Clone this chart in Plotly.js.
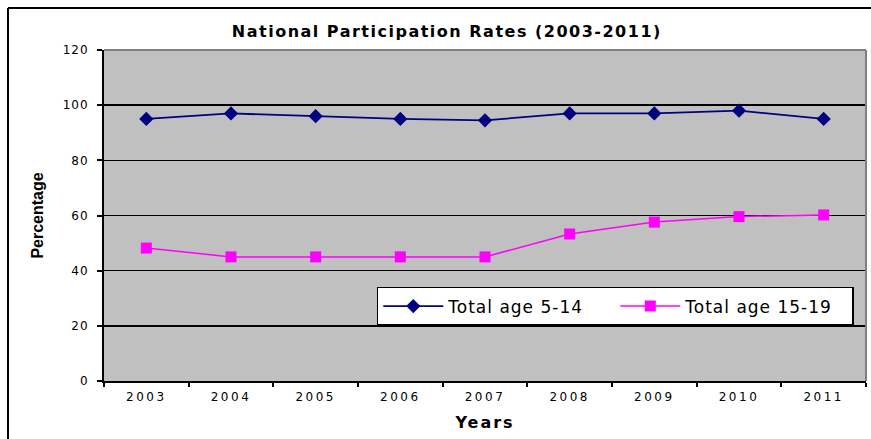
<!DOCTYPE html>
<html>
<head>
<meta charset="utf-8">
<script src="https://cdn.plot.ly/plotly-3.0.1.min.js"></script>
<style>
html,body{margin:0;padding:0;background:#fff;}
#chart{width:871px;height:439px;}
#chart .xtick text{letter-spacing:2.5px;}
#chart .ytick text{letter-spacing:1px;}
#chart .gtitle{letter-spacing:1.5px;}
#chart .xtitle{letter-spacing:2px;}
#chart .legendtext{letter-spacing:1px;}
</style>
</head>
<body>
<div id="chart"></div>
<script>
const years = ["2003","2004","2005","2006","2007","2008","2009","2010","2011"];
const age5to14 = [95, 97, 96, 95, 94.5, 97, 97, 98, 95];
const age15to19 = [48.2, 45, 45, 45, 45, 53.3, 57.6, 59.6, 60.2];
const yTicks = [0, 20, 40, 60, 80, 100, 120];

const traces = [
  {x: years, y: age5to14, type: "scatter", mode: "lines+markers", name: "Total age 5-14",
   line: {color: "#000080", width: 1.8}, marker: {symbol: "diamond", size: 11, color: "#000080"}},
  {x: years, y: age15to19, type: "scatter", mode: "lines+markers", name: "Total age 15-19",
   line: {color: "#FF00FF", width: 1.5}, marker: {symbol: "square", size: 11, color: "#FF00FF"}}
];

const DV = "'DejaVu Sans', Arial, sans-serif";
const layout = {
  width: 871, height: 439,
  margin: {l: 104, r: 5, t: 50, b: 58},
  paper_bgcolor: "#ffffff",
  plot_bgcolor: "#C0C0C0",
  font: {family: DV, color: "#000", size: 12},
  title: {text: "<b>National Participation Rates (2003-2011)</b>", font: {size: 16, family: DV},
          xref: "container", x: 0.513, xanchor: "center", yref: "container", y: 0.929, yanchor: "middle"},
  xaxis: {type: "category", tickson: "boundaries", ticks: "outside", ticklen: 4, tickcolor: "#000", tickwidth: 2,
          showline: true, linecolor: "#000", linewidth: 2, showgrid: false, range: [-0.5, 8.5],
          tickfont: {size: 12, family: DV}, ticklabelstandoff: 4,
          title: {text: "<b>Years</b>", font: {size: 16, family: DV}, standoff: 13}},
  yaxis: {range: [0, 120], tickvals: yTicks, ticks: "outside", ticklen: 5, tickcolor: "#000", tickwidth: 2,
          showline: true, linecolor: "#000", linewidth: 2, showgrid: true, gridcolor: "#000", gridwidth: 1.5,
          zeroline: false, tickfont: {size: 12, family: DV}, ticklabelstandoff: 6,
          title: {text: "<b>Percentage</b>", font: {size: 16, family: "Arial, 'Liberation Sans', sans-serif"}, standoff: 18}},
  legend: {orientation: "h", x: 0.358, y: 0.284, xanchor: "left", yanchor: "top",
           bgcolor: "#ffffff", bordercolor: "#000", borderwidth: 1.5,
           font: {size: 17, family: DV}, itemwidth: 60, entrywidth: 162},
  shapes: [
    {type: "line", xref: "paper", yref: "paper", x0: 1, x1: 1, y0: 0, y1: 1, line: {color: "#808080", width: 2}},
    {type: "line", xref: "paper", yref: "paper", x0: 0, x1: 1, y0: 1, y1: 1, line: {color: "#808080", width: 2}},
    {type: "line", xref: "paper", yref: "paper", x0: -0.126, x1: 1.01, y0: 1.127, y1: 1.127, line: {color: "#000", width: 2}},
    {type: "line", xref: "paper", yref: "paper", x0: -0.126, x1: -0.126, y0: 1.127, y1: -0.2, line: {color: "#000", width: 2}}
  ],
  showlegend: true
};

Plotly.newPlot("chart", traces, layout, {displayModeBar: false, staticPlot: true});
</script>
</body>
</html>
